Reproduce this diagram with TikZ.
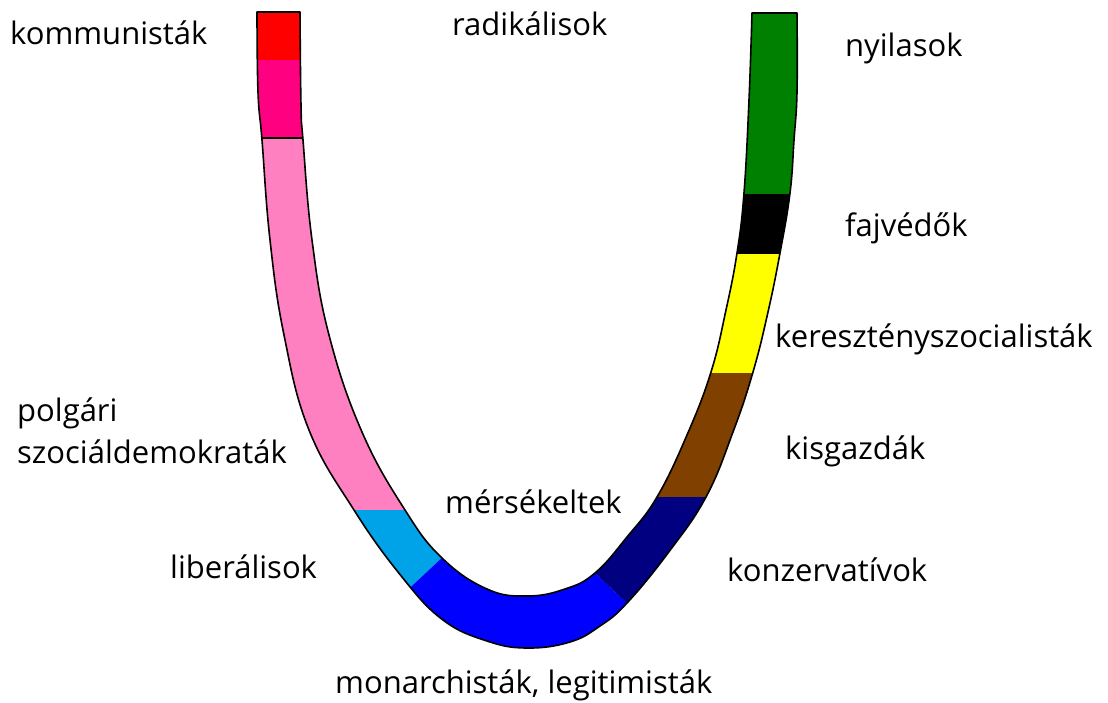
\documentclass[tikz,border=0pt]{standalone}
\usepackage{fontspec}
\setmainfont{Open Sans}
\usepackage{xcolor}
\usepackage{tikz}
\definecolor{kommred}{RGB}{255,0,0}
\definecolor{radmagenta}{RGB}{255,0,128}
\definecolor{polgpink}{RGB}{255,128,192}
\definecolor{liblightblue}{RGB}{0,162,232}
\definecolor{monblue}{RGB}{0,0,255}
\definecolor{konznavy}{RGB}{0,0,128}
\definecolor{kisgbrown}{RGB}{128,64,0}
\definecolor{keryellow}{RGB}{255,255,0}
\definecolor{nyilgreen}{RGB}{0,128,0}

% the whole U-shaped band, outer edge then inner edge
\newcommand{\horseshoe}{plot[smooth,tension=0.7] coordinates {(257,12) (258,92) (262,140) (270,240) (284,335) (309,430) (354,510) (402,577) (443,620) (487,641) (527,648) (570,642) (600,626) (627,603) (668,553) (706,497) (733,432) (753,372) (768,312) (780,253) (790,193) (794,140) (797,92) (797,13)}
  -- plot[smooth,tension=0.7] coordinates {(752,13) (749,100) (744,193) (737,253) (726,310) (711,372) (687,435) (657,497) (627,537) (595,573) (565,589) (527,596) (487,589) (442,558) (405,510) (362,432) (329,335) (312,240) (303,140) (301,105) (300,12)} -- cycle}

\tikzset{party/.style={anchor=base west,inner sep=0pt,font=\fontsize{31}{37}\selectfont}}

\begin{document}
\begin{tikzpicture}[x=1pt,y=-1pt]
    \useasboundingbox (0,0) rectangle (1108,702);

    % straight cuts of the band
    \foreach \clr/\xa/\ya/\xb/\yb in {kommred/200/0/527/60, radmagenta/200/60/527/138, polgpink/200/138/527/510,
        kisgbrown/527/372/900/497, keryellow/527/253/900/372, black/527/193/900/253, nyilgreen/527/0/900/193}{
        \begin{scope}
            \clip (\xa,\ya) rectangle (\xb,\yb);
            \fill[\clr] \horseshoe;
        \end{scope}
    }

    % slanted cuts at the bottom
    \begin{scope}
        \clip (200,510) -- (493,510) -- (290,700) -- (200,700) -- cycle;
        \fill[liblightblue] \horseshoe;
    \end{scope}
    \begin{scope}
        \clip (290,700) -- (493,510) -- (528,510) -- (730,700) -- cycle;
        \fill[monblue] \horseshoe;
    \end{scope}
    \begin{scope}
        \clip (514,497) -- (900,497) -- (900,700) -- (730,700) -- cycle;
        \fill[konznavy] \horseshoe;
    \end{scope}

    % outline
    \draw[line width=1.2pt] (262,138) -- (303,138);
    \draw[line width=1.6pt,line join=round] \horseshoe;

    % labels
    \node[party] (komm) at (10,44) {kommunisták};
    \node[party] (rad) at (452,35) {radikálisok};
    \node[party] (nyil) at (845,56) {nyilasok};
    \node[party] (fajv) at (845,236) {fajvédők};
    \node[party] (kersz) at (775,347) {keresztényszocialisták};
    \node[party] (kisg) at (785,459) {kisgazdák};
    \node[party] (polg) at (17,421) {polgári};
    \node[party] (szocdem) at (17,463) {szociáldemokraták};
    \node[party] (lib) at (170,578) {liberálisok};
    \node[party] (mers) at (445,513) {mérsékeltek};
    \node[party] (konz) at (727,581) {konzervatívok};
    \node[party] (mon) at (335,693) {monarchisták, legitimisták};
\end{tikzpicture}
\end{document}
